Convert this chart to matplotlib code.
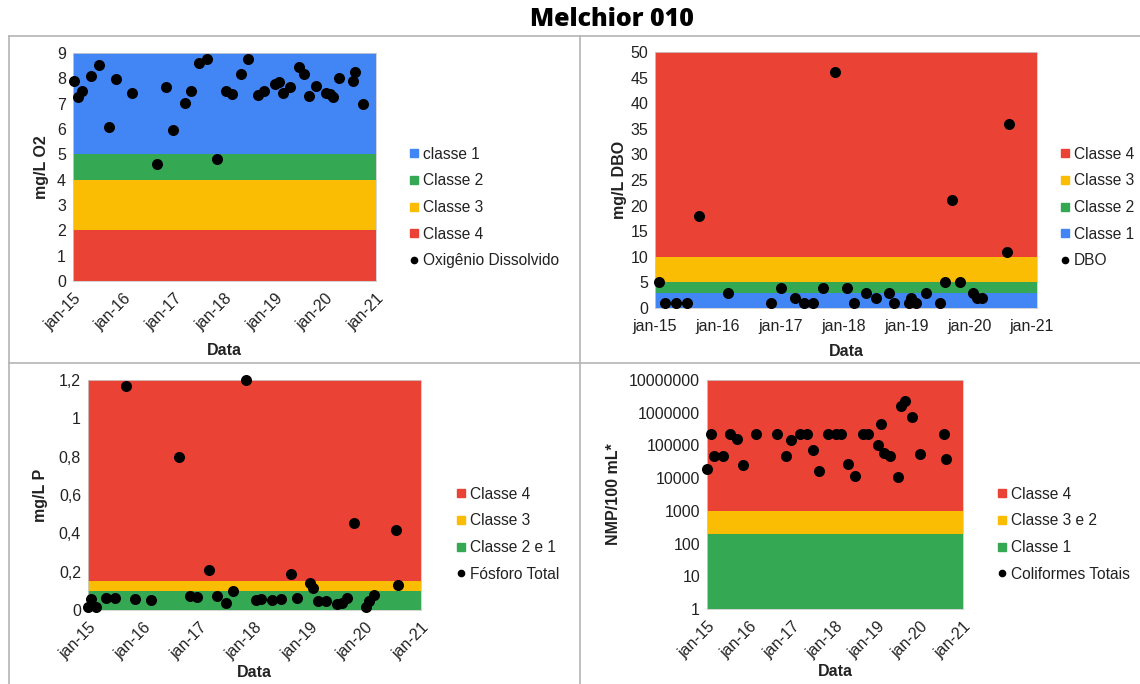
import matplotlib
matplotlib.use("Agg")
import matplotlib.pyplot as plt
from matplotlib.lines import Line2D
from matplotlib.ticker import FixedLocator, FuncFormatter

plt.rcParams["font.family"] = ["Liberation Sans", "DejaVu Sans"]

RED = "#EA4335"
YELLOW = "#FBBC04"
GREEN = "#34A853"
BLUE = "#4285F4"

years = [2015, 2016, 2017, 2018, 2019, 2020, 2021]
year_labels = ["jan-15", "jan-16", "jan-17", "jan-18", "jan-19", "jan-20", "jan-21"]

# Oxigenio dissolvido (mg/L O2)
od_x = [2015.01, 2015.10, 2015.18, 2015.36, 2015.52, 2015.71, 2015.86, 2016.16, 2016.66,
        2016.84, 2016.98, 2017.22, 2017.34, 2017.50, 2017.65, 2017.86, 2018.03, 2018.14,
        2018.32, 2018.47, 2018.66, 2018.78, 2019.00, 2019.07, 2019.15, 2019.29, 2019.48,
        2019.57, 2019.67, 2019.82, 2020.00, 2020.08, 2020.15, 2020.26, 2020.54, 2020.59,
        2020.74]
od_y = [7.89, 7.27, 7.49, 8.08, 8.53, 6.09, 7.97, 7.44, 4.61,
        7.64, 5.96, 7.03, 7.51, 8.62, 8.77, 4.83, 7.51, 7.38,
        8.19, 8.77, 7.36, 7.49, 7.77, 7.86, 7.41, 7.64, 8.45,
        8.19, 7.32, 7.68, 7.44, 7.38, 7.27, 8.02, 7.89, 8.24,
        6.98]

# DBO (mg/L)
dbo_x = [2015.07, 2015.16, 2015.34, 2015.51, 2015.70, 2016.16, 2016.85, 2017.00, 2017.23,
         2017.37, 2017.51, 2017.67, 2017.87, 2018.06, 2018.16, 2018.36, 2018.51, 2018.72,
         2018.81, 2019.04, 2019.08, 2019.15, 2019.32, 2019.53, 2019.62, 2019.72, 2019.85,
         2020.06, 2020.12, 2020.20, 2020.60, 2020.63]
dbo_y = [5, 1, 1, 1, 18, 3, 1, 4, 2,
         1, 1, 4, 46, 4, 1, 3, 2, 3,
         1, 1, 2, 1, 3, 1, 5, 21, 5,
         3, 2, 2, 11, 36]

# Fosforo total (mg/L P)
p_x = [2015.00, 2015.05, 2015.15, 2015.33, 2015.49, 2015.68, 2015.84, 2016.14, 2016.64,
       2016.84, 2016.97, 2017.18, 2017.32, 2017.48, 2017.62, 2017.84, 2018.02, 2018.12,
       2018.32, 2018.48, 2018.66, 2018.77, 2019.00, 2019.05, 2019.14, 2019.28, 2019.49,
       2019.57, 2019.67, 2019.80, 2020.00, 2020.06, 2020.15, 2020.55, 2020.59]
p_y = [0.017, 0.056, 0.017, 0.063, 0.063, 1.17, 0.056, 0.05, 0.80,
       0.073, 0.068, 0.21, 0.073, 0.035, 0.099, 1.198, 0.05, 0.056,
       0.05, 0.056, 0.186, 0.063, 0.139, 0.117, 0.045, 0.045, 0.03,
       0.037, 0.063, 0.454, 0.017, 0.045, 0.077, 0.416, 0.129]

# Coliformes totais (NMP/100 mL)
col_x = [2015.00, 2015.09, 2015.16, 2015.37, 2015.53, 2015.70, 2015.84, 2016.15, 2016.64,
         2016.84, 2016.98, 2017.18, 2017.35, 2017.48, 2017.62, 2017.84, 2018.02, 2018.14,
         2018.31, 2018.48, 2018.66, 2018.77, 2019.01, 2019.08, 2019.15, 2019.30, 2019.48,
         2019.55, 2019.65, 2019.81, 2019.99, 2020.55, 2020.60]
col_y = [19500, 220000, 46000, 49000, 220000, 160000, 25000, 220000, 220000,
         46000, 150000, 220000, 220000, 74000, 17000, 220000, 220000, 220000,
         28000, 12000, 220000, 220000, 104000, 440000, 60000, 49000, 11000,
         1600000, 2300000, 720000, 54000, 220000, 39000]

od_bands = [(5, 9, BLUE), (4, 5, GREEN), (2, 4, YELLOW), (0, 2, RED)]
dbo_bands = [(10, 50, RED), (5, 10, YELLOW), (3, 5, GREEN), (0, 3, BLUE)]
p_bands = [(0.15, 1.2, RED), (0.1, 0.15, YELLOW), (0, 0.1, GREEN)]
col_bands = [(1000, 1e7, RED), (200, 1000, YELLOW), (1, 200, GREEN)]

W, H = 1140, 684
fig = plt.figure(figsize=(W / 100, H / 100), dpi=100)
TXT = "#222222"


def px_axes(left, top, right, bottom):
    return fig.add_axes([left / W, 1 - bottom / H, (right - left) / W, (bottom - top) / H])


def style_axes(ax, xmax, rotate, xpad):
    ax.set_xlim(2015, xmax)
    ax.xaxis.set_major_locator(FixedLocator(years))
    if rotate:
        ax.set_xticklabels(year_labels, rotation=45, ha="right", rotation_mode="anchor")
    else:
        ax.set_xticklabels(year_labels)
    ax.set_xlabel("Data", fontsize=11.5, fontweight="bold", color=TXT, labelpad=xpad)
    ax.tick_params(axis="both", length=0, labelsize=11.5, colors=TXT)
    ax.tick_params(axis="y", pad=5)
    ax.tick_params(axis="x", pad=7 if rotate else 8)
    for s in ax.spines.values():
        s.set_color("#cccccc")
        s.set_linewidth(0.6)


def add_legend(ax, entries, label, x, y):
    handles = []
    for name, color in entries:
        handles.append(Line2D([], [], marker="s", linestyle="none", markersize=5.5,
                              markerfacecolor=color, markeredgecolor=color, label=name))
    handles.append(Line2D([], [], marker="o", linestyle="none", markersize=4.5,
                          markerfacecolor="black", markeredgecolor="black", label=label))
    ax.legend(handles=handles, loc="upper left", bbox_to_anchor=(x / W, 1 - y / H),
              bbox_transform=fig.transFigure, frameon=False, fontsize=11.2,
              handlelength=0.6, handletextpad=0.25, labelspacing=0.75, borderpad=0,
              labelcolor=TXT)


# panel 1 - oxigenio
ax1 = px_axes(73, 53, 376, 281)
for lo, hi, c in od_bands:
    ax1.axhspan(lo, hi, color=c, lw=0)
ax1.scatter(od_x, od_y, s=48, color="black", zorder=3, clip_on=False)
ax1.set_ylim(0, 9)
ax1.set_yticks(range(0, 10))
style_axes(ax1, 2021, True, 7)
ax1.set_ylabel("mg/L O2", fontsize=11.5, fontweight="bold", color=TXT, labelpad=6)
add_legend(ax1, [("classe 1", BLUE), ("Classe 2", GREEN), ("Classe 3", YELLOW), ("Classe 4", RED)],
           "Oxigênio Dissolvido", 402, 139)

# panel 2 - DBO
ax2 = px_axes(655, 52, 1037, 308)
for lo, hi, c in dbo_bands:
    ax2.axhspan(lo, hi, color=c, lw=0)
ax2.scatter(dbo_x, dbo_y, s=48, color="black", zorder=3, clip_on=False)
ax2.set_ylim(0, 50)
ax2.set_yticks(range(0, 51, 5))
style_axes(ax2, 2021.08, False, 7)
ax2.set_ylabel("mg/L DBO", fontsize=11.5, fontweight="bold", color=TXT, labelpad=2)
add_legend(ax2, [("Classe 4", RED), ("Classe 3", YELLOW), ("Classe 2", GREEN), ("Classe 1", BLUE)],
           "DBO", 1053, 139)

# panel 3 - fosforo
ax3 = px_axes(88, 380, 421, 610)
for lo, hi, c in p_bands:
    ax3.axhspan(lo, hi, color=c, lw=0)
ax3.scatter(p_x, p_y, s=48, color="black", zorder=3, clip_on=False)
ax3.set_ylim(0, 1.2)
ax3.set_yticks([0, 0.2, 0.4, 0.6, 0.8, 1.0, 1.2])
ax3.yaxis.set_major_formatter(FuncFormatter(lambda v, p: ("%g" % round(v, 1)).replace(".", ",")))
style_axes(ax3, 2021, True, 2)
ax3.set_ylabel("mg/L P", fontsize=11.5, fontweight="bold", color=TXT, labelpad=8)
add_legend(ax3, [("Classe 4", RED), ("Classe 3", YELLOW), ("Classe 2 e 1", GREEN)],
           "Fósforo Total", 449, 479)

# panel 4 - coliformes
ax4 = px_axes(707, 380, 963, 609)
for lo, hi, c in col_bands:
    ax4.axhspan(lo, hi, color=c, lw=0)
ax4.scatter(col_x, col_y, s=48, color="black", zorder=3, clip_on=False)
ax4.set_yscale("log")
ax4.set_ylim(1, 1e7)
ax4.yaxis.set_major_locator(FixedLocator([10 ** k for k in range(8)]))
ax4.yaxis.set_minor_locator(FixedLocator([]))
ax4.yaxis.set_major_formatter(FuncFormatter(lambda v, p: "%d" % round(v)))
style_axes(ax4, 2021, True, 2)
ax4.set_ylabel("NMP/100 mL*", fontsize=11.5, fontweight="bold", color=TXT, labelpad=6)
add_legend(ax4, [("Classe 4", RED), ("Classe 3 e 2", YELLOW), ("Classe 1", GREEN)],
           "Coliformes Totais", 990, 479)

# panel borders
border = "#b4b4b4"
fig.add_artist(Line2D([9 / W, 1], [1 - 36 / H, 1 - 36 / H], color=border, lw=1.2))
fig.add_artist(Line2D([9 / W, 9 / W], [0, 1 - 36 / H], color=border, lw=1.2))
fig.add_artist(Line2D([580 / W, 580 / W], [0, 1 - 36 / H], color=border, lw=1.2))
fig.add_artist(Line2D([9 / W, 1], [1 - 363 / H, 1 - 363 / H], color=border, lw=1.2))

fig.text(612 / W, 1 - 19 / H, "Melchior 010", ha="center", va="center",
         fontsize=18, fontweight="heavy", family=["Open Sans", "DejaVu Sans"])

fig.savefig("out.png", dpi=100)
